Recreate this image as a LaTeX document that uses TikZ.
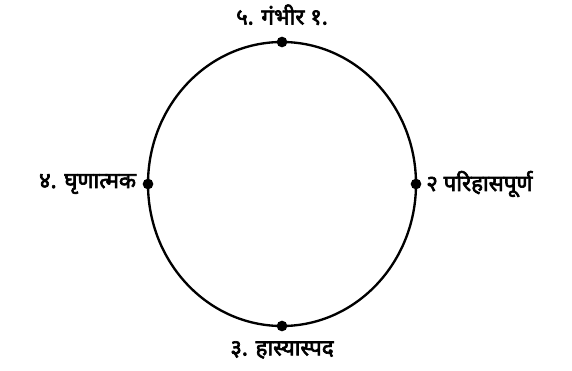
\documentclass[tikz,border=0pt]{standalone}
\usepackage{fontspec}
\newfontfamily\devfont[Script=Devanagari, FakeBold=3]{Noto Sans}
\usetikzlibrary{positioning}

\begin{document}
\begin{tikzpicture}[x=0.03cm, y=-0.03cm,
  dot/.style={circle, fill=black, inner sep=0pt, minimum size=0.32cm},
  lbl/.style={font=\devfont\fontsize{19}{21}\selectfont, inner sep=1pt},
  ring/.style={line width=2pt, black}
]
\useasboundingbox (0,0) rectangle (572,370);

% Circle
\draw[ring] (282,184) ellipse [x radius=134, y radius=142];

% Points
\node[dot] (top) at (282,42) {};
\node[dot] (right) at (416,184) {};
\node[dot] (bottom) at (282,326) {};
\node[dot] (left) at (148,184) {};

% Labels
\node[lbl, above=0.3cm of top] (ltop) {५. गंभीर १.};
\node[lbl, right=0.1cm of right] (lright) {२ परिहासपूर्ण};
\node[lbl, below=0.25cm of bottom] (lbottom) {३. हास्यास्पद};
\node[lbl, left=0.15cm of left] (lleft) {४. घृणात्मक};

\end{tikzpicture}
\end{document}
